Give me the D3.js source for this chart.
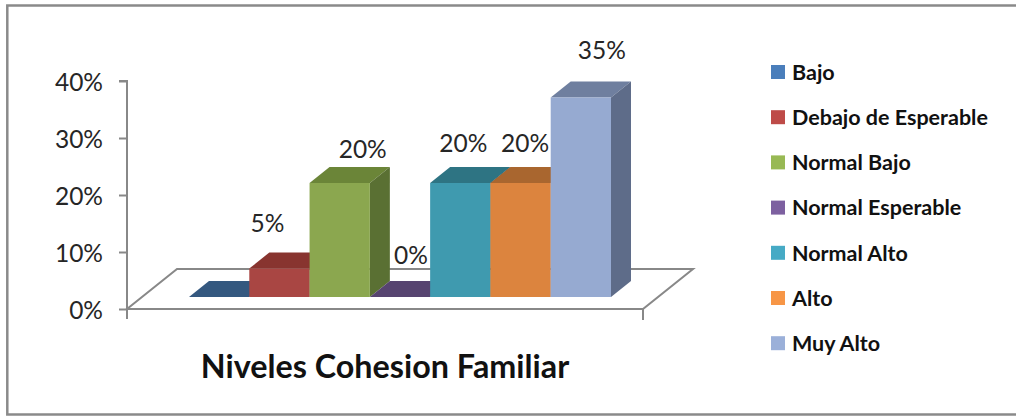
<!DOCTYPE html>
<html>
<head>
<meta charset="utf-8">
<script src="https://cdn.jsdelivr.net/npm/d3@7"></script>
<style>
  html, body { margin: 0; padding: 0; background: #fff; }
  svg { display: block; }
</style>
</head>
<body>
<svg id="chart" width="1016" height="416"></svg>
<script>
// Niveles de cohesión familiar — share of cases in each level
const series = ["Bajo", "Debajo de Esperable", "Normal Bajo", "Normal Esperable", "Normal Alto", "Alto", "Muy Alto"];
const values = [0, 0.05, 0.20, 0, 0.20, 0.20, 0.35];
const showLabel = [false, true, true, true, true, true, true];
const yTicks = [0, 0.1, 0.2, 0.3, 0.4];
const category = "Niveles Cohesion Familiar";

// palette: legend swatch, front face, top face, side face
const swatch = ["#4A7EBB", "#BE4B48", "#98B954", "#7D60A0", "#46AAC5", "#F79646", "#9BB0D9"];
const front  = ["#4A7EBB", "#A94643", "#8BA74F", "#7D60A0", "#3F9AAF", "#DC843E", "#96AAD1"];
const top_   = ["#34587F", "#88342F", "#6B8538", "#574470", "#2E7483", "#A9662F", "#6F7F9F"];
const side   = ["#2B4A6B", "#6E2A27", "#5A7033", "#473A5C", "#275F6B", "#8B5427", "#5E6C89"];

const svg = d3.select("#chart");
const font = "Lato, 'Open Sans', sans-serif";

// outer frame
svg.append("rect")
  .attr("x", 7.3).attr("y", 5.5).attr("width", 1030).attr("height", 409)
  .attr("fill", "#fff").attr("stroke", "#8a8a8a").attr("stroke-width", 2.5);

// plot geometry (front plane of the floor) and oblique depth
const x0 = 127, x1 = 643, yBase = 309, yTop = 81;
const floorDepth = [50, -40];     // full floor depth
const barOffset  = [15, -12];     // bar front face sits inside the floor
const barDepth   = [20, -16];

const y = d3.scaleLinear().domain([0, 0.4]).range([yBase, yTop]);
const outer = d3.scaleBand().domain([category]).range([x0, x1]).paddingOuter(0.1114).paddingInner(0);
const inner = d3.scaleBand().domain(series).range([0, outer.bandwidth()]).padding(0);

const gray = "#888";

// floor
const floor = [
  [x0, yBase], [x1, yBase],
  [x1 + floorDepth[0], yBase + floorDepth[1]],
  [x0 + floorDepth[0], yBase + floorDepth[1]]
];
svg.append("path")
  .attr("d", d3.line()(floor) + "Z")
  .attr("fill", "#fff").attr("stroke", gray).attr("stroke-width", 2);

// category axis tick at the right end
svg.append("line")
  .attr("x1", x1).attr("x2", x1).attr("y1", yBase).attr("y2", yBase + 11)
  .attr("stroke", gray).attr("stroke-width", 2);

// value axis
const yAxis = d3.axisLeft(y)
  .tickValues(yTicks)
  .tickFormat(d3.format(".0%"))
  .tickSize(8)
  .tickPadding(16);
const gy = svg.append("g").attr("transform", `translate(${x0},0)`).call(yAxis);
gy.select(".domain").attr("d", `M-8,${yTop}H0V${yBase + 10}`)
  .attr("stroke", gray).attr("stroke-width", 2).attr("fill", "none");
gy.selectAll(".tick line").attr("stroke", gray).attr("stroke-width", 2);
gy.selectAll(".tick text")
  .attr("font-family", font).attr("font-size", 24.5).attr("fill", "#262626")
  .attr("dy", "0.38em");

// 3D columns, drawn left to right so each front face hides its neighbour's side
const bars = svg.append("g");
series.forEach((s, i) => {
  const xl = outer(category) + inner(s) + barOffset[0];
  const xr = xl + inner.bandwidth();
  const yb = y(0) + barOffset[1];
  const yt = y(values[i]) + barOffset[1];
  const dx = barDepth[0], dy = barDepth[1];
  const g = bars.append("g");
  // top face
  g.append("path")
    .attr("d", d3.line()([[xl, yt], [xr, yt], [xr + dx, yt + dy], [xl + dx, yt + dy]]) + "Z")
    .attr("fill", top_[i]);
  if (values[i] > 0) {
    // side face
    g.append("path")
      .attr("d", d3.line()([[xr, yt], [xr + dx, yt + dy], [xr + dx, yb + dy], [xr, yb]]) + "Z")
      .attr("fill", side[i]);
    // front face
    g.append("rect")
      .attr("x", xl).attr("y", yt).attr("width", xr - xl).attr("height", yb - yt)
      .attr("fill", front[i]);
  }
});

// data labels, placed above each column top
const labelNudge = [[0, 0], [-22, -7], [13, 4], [1, -4], [-7, -1.5], [-5.5, -1.5], [11, -9.5]];
svg.append("g").selectAll("text")
  .data(series.map((s, i) => ({ s, i, v: values[i] })).filter(d => showLabel[d.i]))
  .join("text")
  .attr("x", d => outer(category) + inner(d.s) + barOffset[0] + inner.bandwidth() / 2 + barDepth[0] / 2 + labelNudge[d.i][0])
  .attr("y", d => y(d.v) + barOffset[1] + barDepth[1] - 22 + labelNudge[d.i][1])
  .attr("dy", "0.36em")
  .attr("text-anchor", "middle")
  .attr("font-family", font).attr("font-size", 24.5).attr("fill", "#262626")
  .text(d => d3.format(".0%")(d.v));

// category title under the floor
svg.append("text")
  .attr("x", 385).attr("y", 378)
  .attr("text-anchor", "middle")
  .attr("font-family", font).attr("font-weight", "bold").attr("font-size", 32.3)
  .attr("fill", "#111")
  .text(category);

// legend
const legend = svg.append("g").attr("transform", "translate(771,72)");
const row = legend.selectAll("g").data(series).join("g")
  .attr("transform", (d, i) => `translate(0,${i * 45.2})`);
row.append("rect")
  .attr("x", 0).attr("y", -7).attr("width", 14).attr("height", 14)
  .attr("fill", (d, i) => swatch[i]);
row.append("text")
  .attr("x", 21).attr("y", 0).attr("dy", "0.36em")
  .attr("font-family", font).attr("font-weight", "bold").attr("font-size", 21.5)
  .attr("fill", "#111")
  .text(d => d);
</script>
</body>
</html>
